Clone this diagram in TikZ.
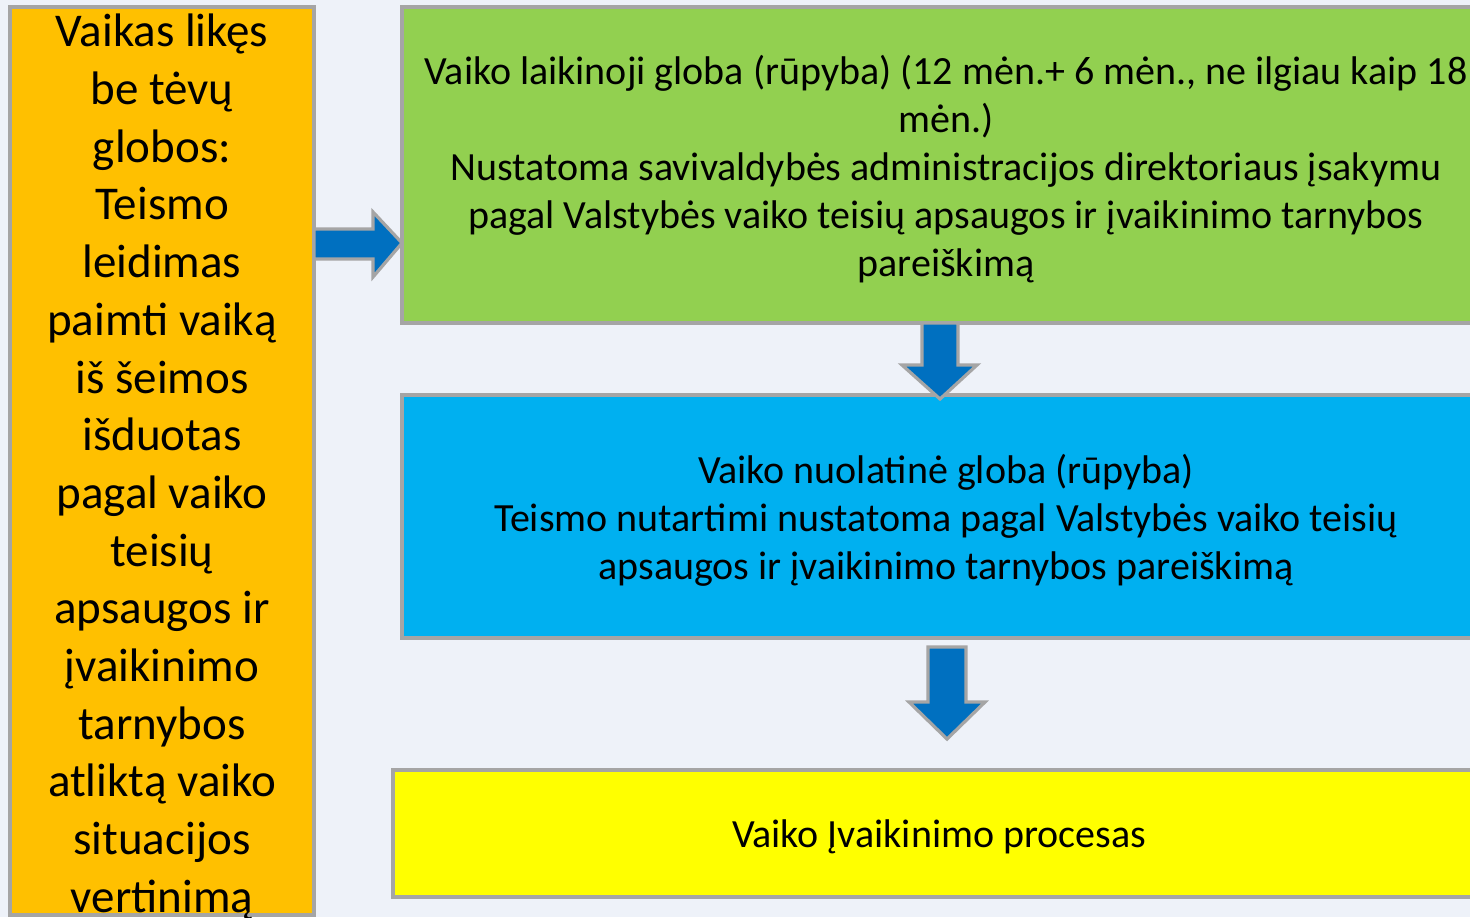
\documentclass[tikz,border=0pt]{standalone}
\usepackage{fontspec}
\setmainfont{Carlito}
\begin{document}
\begin{tikzpicture}[x=0.5pt,y=-0.5pt,
  box/.style={draw=boxgray,line width=1.6pt},
  txt/.style={align=center,inner sep=0pt,font=\fontsize{20}{24}\selectfont},
  bigtxt/.style={align=center,inner sep=0pt,font=\fontsize{23.5}{28.85}\selectfont},
  blockarrow/.style={draw=boxgray,line width=1.6pt,fill=arrowblue,line join=miter}]
\definecolor{boxgray}{HTML}{A5A5A5}
\definecolor{bgcol}{HTML}{EEF2F9}
\definecolor{orangebox}{HTML}{FFC000}
\definecolor{greenbox}{HTML}{92D050}
\definecolor{bluebox}{HTML}{00B0F0}
\definecolor{yellowbox}{HTML}{FFFF00}
\definecolor{arrowblue}{HTML}{0070C0}
\useasboundingbox (0,0) rectangle (1470,917);
\clip (0,0) rectangle (1470,917);
\fill[bgcol] (0,0) rectangle (1470,917);
% boxes
\draw[box,fill=orangebox] (10,7) rectangle (314,915);
\draw[box,fill=greenbox] (402,7) rectangle (1495,323);
\draw[box,fill=bluebox] (402,395) rectangle (1495,638);
\draw[box,fill=yellowbox] (393,770) rectangle (1490,897);
% texts
\node[bigtxt] (left) at (162,467) {Vaikas likęs\\be tėvų\\globos:\\Teismo\\leidimas\\paimti vaiką\\iš šeimos\\išduotas\\pagal vaiko\\teisių\\apsaugos ir\\įvaikinimo\\tarnybos\\atliktą vaiko\\situacijos\\vertinimą};
\node[txt] (green) at (946,169) {Vaiko laikinoji globa (rūpyba) (12 mėn.+ 6 mėn., ne ilgiau kaip 18\\mėn.)\\Nustatoma savivaldybės administracijos direktoriaus įsakymu\\pagal Valstybės vaiko teisių apsaugos ir įvaikinimo tarnybos\\pareiškimą};
\node[txt] (blue) at (946,520) {Vaiko nuolatinė globa (rūpyba)\\Teismo nutartimi nustatoma pagal Valstybės vaiko teisių\\apsaugos ir įvaikinimo tarnybos pareiškimą};
\node[txt] (yellow) at (939,837) {Vaiko Įvaikinimo procesas};
% arrows
\draw[blockarrow] (314,229) -- (373,229) -- (373,212) -- (402,243) -- (373,277) -- (373,259) -- (314,259) -- cycle;
\draw[blockarrow] (922,323) -- (958,323) -- (958,365) -- (977,365) -- (940,399) -- (902,365) -- (922,365) -- cycle;
\draw[blockarrow] (928,647) -- (966,647) -- (966,702) -- (985,702) -- (947,739) -- (909,702) -- (928,702) -- cycle;
\end{tikzpicture}
\end{document}
